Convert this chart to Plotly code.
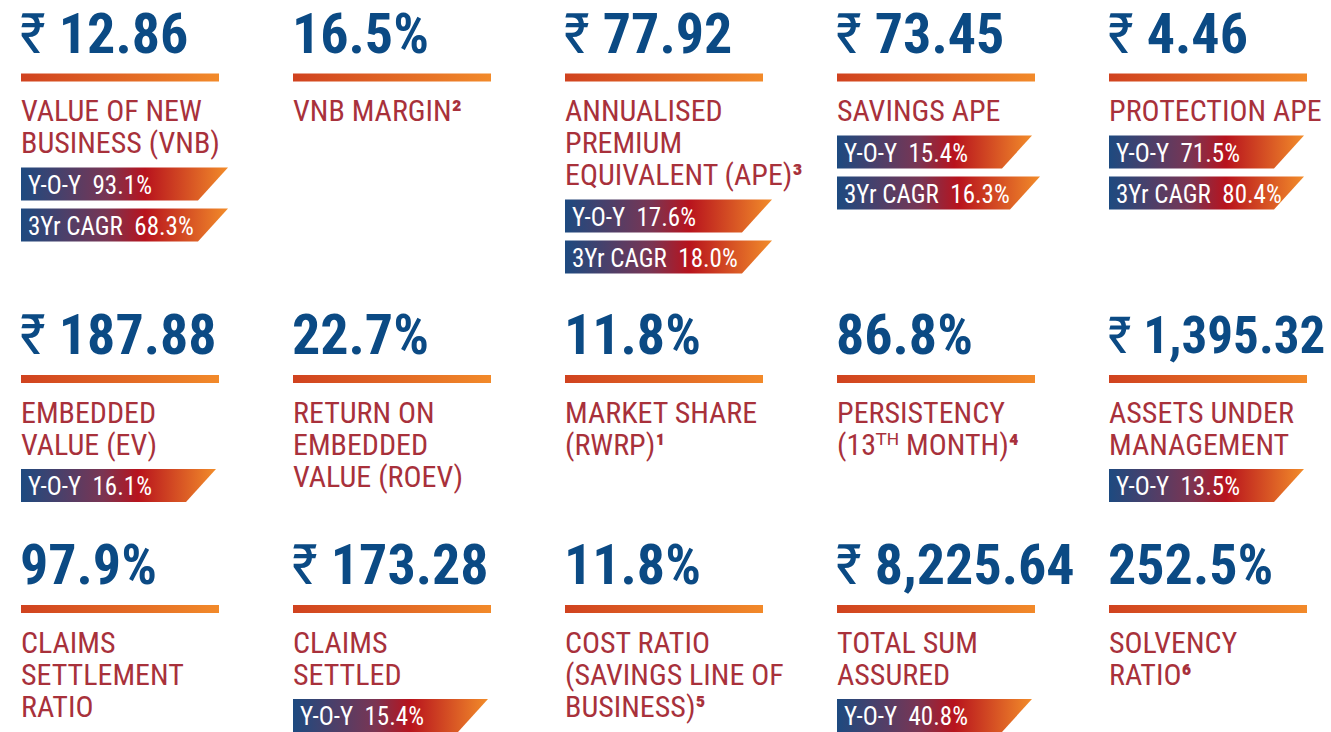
import plotly.graph_objects as go

W, H = 1331, 732

# ---- datos de las 15 fichas (fila por fila, izquierda a derecha) ----
VALORES = ["12.86", "16.5%", "77.92", "73.45", "4.46",
           "187.88", "22.7%", "11.8%", "86.8%", "1,395.32",
           "97.9%", "173.28", "11.8%", "8,225.64", "252.5%"]
RUPIA = [True, False, True, True, True,
         True, False, False, False, True,
         False, True, False, True, False]
ETIQUETAS = [
    ["VALUE OF NEW", "BUSINESS (VNB)"],
    ["VNB MARGIN<b>²</b>"],
    ["ANNUALISED", "PREMIUM", "EQUIVALENT (APE)<b>³</b>"],
    ["SAVINGS APE"],
    ["PROTECTION APE"],
    ["EMBEDDED", "VALUE (EV)"],
    ["RETURN ON", "EMBEDDED", "VALUE (ROEV)"],
    ["MARKET SHARE", "(RWRP)<b>¹</b>"],
    ["PERSISTENCY", "(13ᵀᴴ MONTH)<b>⁴</b>"],
    ["ASSETS UNDER", "MANAGEMENT"],
    ["CLAIMS", "SETTLEMENT", "RATIO"],
    ["CLAIMS", "SETTLED"],
    ["COST RATIO", "(SAVINGS LINE OF", "BUSINESS)<b>⁵</b>"],
    ["TOTAL SUM", "ASSURED"],
    ["SOLVENCY", "RATIO<b>⁶</b>"],
]
YOY = ["93.1%", None, "17.6%", "15.4%", "71.5%",
       "16.1%", None, None, None, "13.5%",
       None, "15.4%", None, "40.8%", None]
CAGR = ["68.3%", None, "18.0%", "16.3%", "80.4%",
        None, None, None, None, None,
        None, None, None, None, None]

# ---- estilo ----
AZUL = "#0b4a84"
ROJO = "#a8313b"
NARROW = "Roboto Condensed, DejaVu Sans Condensed, sans-serif"
GRAD_BADGE = [[0, "#1d4a80"], [0.42, "#7a3553"], [0.6, "#b8131d"], [1, "#f28c2a"]]
GRAD_REGLA = [[0, "#d0421f"], [1, "#f28a2a"]]
COL_X0, COL_PASO = 21, 272
REGLA_Y = [77.5, 379, 609]
REGLA_W, REGLA_H = 198, 8
LINEA = 32
TAM_VALOR, TAM_ETIQ, TAM_BADGE = 56, 30, 25
TAM_VALOR_AJUSTE = {9: 51}          # 1,395.32 tiene que caber hasta el borde
BADGE_H, BADGE_GAP, SLANT = 33, 8, 30
ANCHO_BADGE = {0: (207, 207), 2: (207, 207), 3: (195, 203)}

fig = go.Figure()
anots = []


def poligono(xs, ys, escala):
    fig.add_trace(go.Scatter(
        x=xs, y=ys, fill="toself", mode="lines", line=dict(width=0),
        fillgradient=dict(type="horizontal", colorscale=escala),
        hoverinfo="skip", showlegend=False))


for i, valor in enumerate(VALORES):
    fila, col = divmod(i, 5)
    x0 = COL_X0 + COL_PASO * col
    ry = REGLA_Y[fila]

    texto = ("₹ " if RUPIA[i] else "") + f"<b>{valor}</b>"
    anots.append(dict(x=x0 - 3, y=ry - 44, text=texto, xanchor="left", yanchor="middle",
                      showarrow=False,
                      font=dict(family=NARROW, size=TAM_VALOR_AJUSTE.get(i, TAM_VALOR),
                                color=AZUL)))

    poligono([x0, x0 + REGLA_W, x0 + REGLA_W, x0, x0],
             [ry - REGLA_H / 2, ry - REGLA_H / 2, ry + REGLA_H / 2, ry + REGLA_H / 2,
              ry - REGLA_H / 2], GRAD_REGLA)

    for k, linea in enumerate(ETIQUETAS[i]):
        anots.append(dict(x=x0 - 2, y=ry + 33 + LINEA * k, text=linea, xanchor="left",
                          yanchor="middle", showarrow=False,
                          font=dict(family=NARROW, size=TAM_ETIQ, color=ROJO)))

    by = ry + 33 + LINEA * (len(ETIQUETAS[i]) - 1) + 25
    anchos = ANCHO_BADGE.get(i, (195, 195))
    for j, (pre, val) in enumerate([("Y-O-Y", YOY[i]), ("3Yr CAGR", CAGR[i])]):
        if val is None:
            continue
        y0 = by + j * (BADGE_H + BADGE_GAP)
        w = anchos[j]
        poligono([x0, x0 + w, x0 + w - SLANT, x0, x0],
                 [y0, y0, y0 + BADGE_H, y0 + BADGE_H, y0], GRAD_BADGE)
        anots.append(dict(x=x0 + 5, y=y0 + BADGE_H / 2 + 1,
                          text=f"{pre}\u00a0\u00a0{val}", xanchor="left", yanchor="middle",
                          showarrow=False,
                          font=dict(family=NARROW, size=TAM_BADGE, color="white")))

fig.update_layout(
    width=W, height=H, margin=dict(l=0, r=0, t=0, b=0),
    paper_bgcolor="white", plot_bgcolor="white",
    xaxis=dict(range=[0, W], visible=False, fixedrange=True),
    yaxis=dict(range=[H, 0], visible=False, fixedrange=True),
    annotations=anots, showlegend=False)

fig.write_html("out.html", config={"displayModeBar": False},
               post_script="document.body.style.margin='0';")
